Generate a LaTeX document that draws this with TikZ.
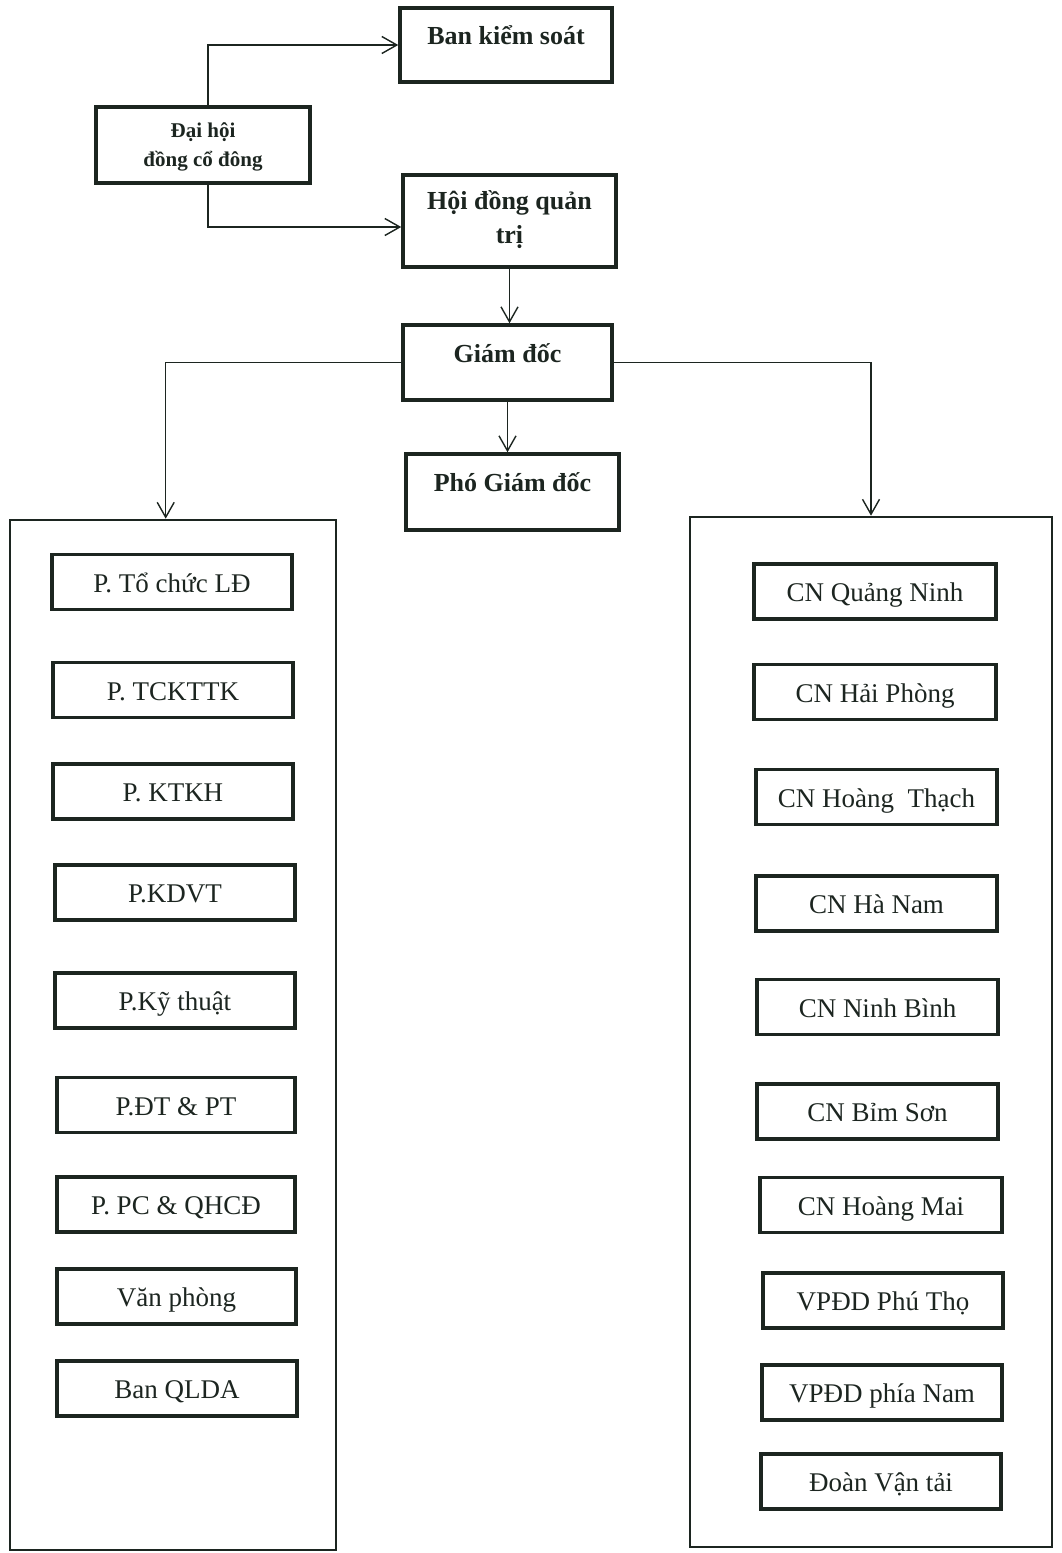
\documentclass[tikz,border=0pt]{standalone}
\usepackage{fontspec}
\setmainfont{Liberation Serif}
\usetikzlibrary{arrows.meta,calc}
\definecolor{ink}{HTML}{1C2520}
\begin{document}
\begin{tikzpicture}[x=1pt,y=-1pt,
  hbox/.style={draw=ink, line width=3.5pt, inner sep=0pt},
  cbox/.style={draw=ink, line width=2.6pt, inner sep=0pt},
  ibox/.style={draw=ink, line width=3.5pt, inner sep=0pt, minimum height=55pt,
    font=\fontsize{27}{30}\selectfont, text=ink, text height=26pt, text depth=6pt},
  htxt/.style={font=\fontsize{26}{34}\selectfont\bfseries, align=center, text=ink, inner sep=0pt},
  arr/.style={draw=ink, line width=1.4pt, -{Straight Barb[length=15pt,width=17pt]}}
]
\useasboundingbox (0,0) rectangle (1061,1553);

% top boxes
\node[hbox, minimum width=212pt, minimum height=74pt] (bks) at (506,45) {};
\node[htxt] (bkst) at (506,35) {Ban kiểm soát};
\node[hbox, minimum width=214pt, minimum height=76pt] (dh) at (203,145) {};
\node[htxt, font=\fontsize{21}{29}\selectfont\bfseries] (dht) at (203,147) {Đại hội\\đồng cổ đông};
\node[hbox, minimum width=213pt, minimum height=92pt] (hd) at (509.5,221) {};
\node[htxt] (hdt) at (509.5,220) {Hội đồng quản\\trị};
\node[hbox, minimum width=209pt, minimum height=75pt] (gd) at (507.5,362.5) {};
\node[htxt] (gdt) at (507.5,353) {Giám đốc};
\node[hbox, minimum width=213pt, minimum height=76pt] (pgd) at (512.5,492) {};
\node[htxt] (pgdt) at (512.5,482) {Phó Giám đốc};

% containers
\node[cbox, minimum width=326pt, minimum height=1030pt] (lc) at (173,1035) {};
\node[cbox, minimum width=362pt, minimum height=1030pt] (rc) at (871,1032) {};

% left inner boxes
\node[ibox, minimum width=240pt] (l1) at (172,582) {P. Tổ chức LĐ};
\node[ibox, minimum width=240pt] (l2) at (173,690) {P. TCKTTK};
\node[ibox, minimum width=240pt] (l3) at (173,791.5) {P. KTKH};
\node[ibox, minimum width=240pt] (l4) at (175,892.5) {P.KDVT};
\node[ibox, minimum width=240pt] (l5) at (175,1000.5) {P.Kỹ thuật};
\node[ibox, minimum width=238pt] (l6) at (176,1105) {P.ĐT \& PT};
\node[ibox, minimum width=238pt] (l7) at (176,1204.5) {P. PC \& QHCĐ};
\node[ibox, minimum width=239pt] (l8) at (176.5,1296.5) {Văn phòng};
\node[ibox, minimum width=240pt] (l9) at (177,1388.5) {Ban QLDA};

% right inner boxes
\node[ibox, minimum width=242pt] (r1) at (875,591.5) {CN Quảng Ninh};
\node[ibox, minimum width=242pt] (r2) at (875,692) {CN Hải Phòng};
\node[ibox, minimum width=241pt] (r3) at (876.5,797) {CN Hoàng\ \ Thạch};
\node[ibox, minimum width=241pt] (r4) at (876.5,903.5) {CN Hà Nam};
\node[ibox, minimum width=241pt] (r5) at (877.5,1007) {CN Ninh Bình};
\node[ibox, minimum width=241pt] (r6) at (877.5,1111.5) {CN Bỉm Sơn};
\node[ibox, minimum width=242pt] (r7) at (881,1205) {CN Hoàng Mai};
\node[ibox, minimum width=240pt] (r8) at (883,1300.5) {VPĐD Phú Thọ};
\node[ibox, minimum width=240pt] (r9) at (882,1392.5) {VPĐD phía Nam};
\node[ibox, minimum width=240pt] (r10) at (881,1481.5) {Đoàn Vận tải};

% connectors
\draw[arr] ([xshift=5pt]dh.north) |- (bks.west);
\draw[arr] ([xshift=5pt]dh.south) |- ([yshift=-6pt]hd.west);
\draw[arr] (hd.south) -- (hd.south |- gd.north);
\draw[arr] (gd.south) -- (gd.south |- pgd.north);
\draw[arr] (gd.west) -| ([xshift=157pt]lc.north west);
\draw[arr] (gd.east) -| (rc.north);
\end{tikzpicture}
\end{document}
